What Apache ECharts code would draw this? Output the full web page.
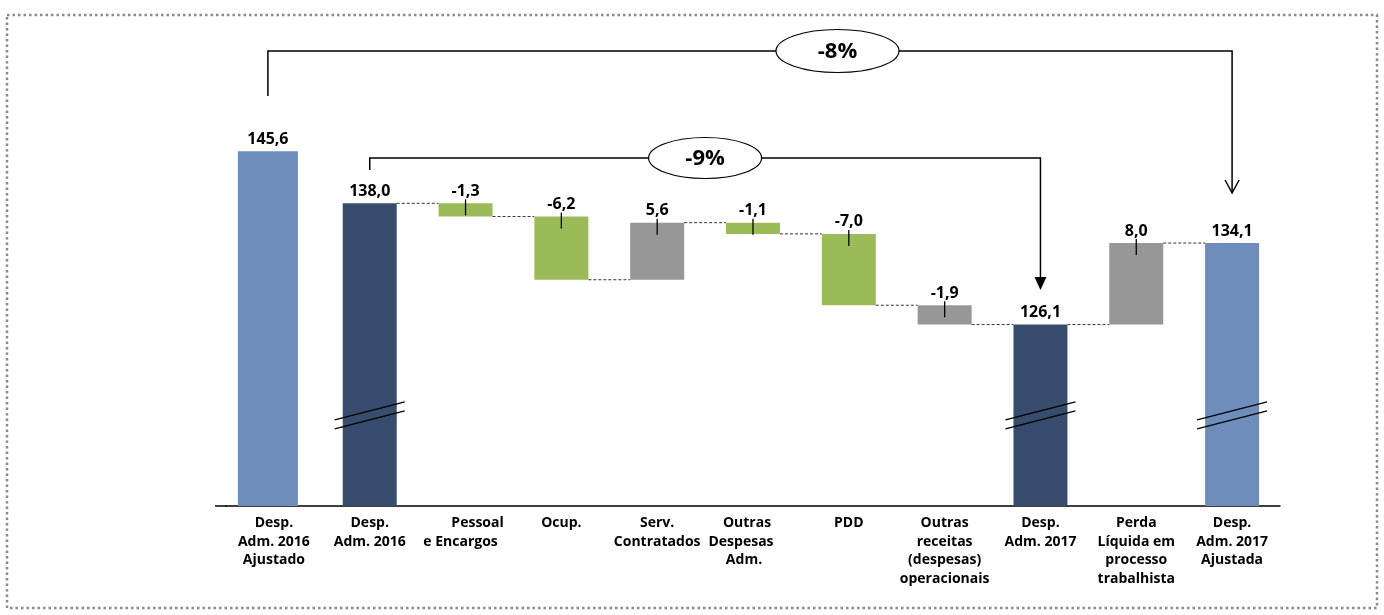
<!DOCTYPE html>
<html><head><meta charset="utf-8">
<script src="https://cdn.jsdelivr.net/npm/echarts@6/dist/echarts.min.js"></script>
<style>html,body{margin:0;padding:0;background:#fff}#c{width:1384px;height:615px}</style>
</head><body><div id="c"></div>
<script>
// ---- data ----
const categories = ['Desp.\nAdm. 2016\nAjustado','Desp.\nAdm. 2016','Pessoal\ne Encargos','Ocup.','Serv.\nContratados','Outras\nDespesas\nAdm.','PDD','Outras\nreceitas\n(despesas)\noperacionais','Desp.\nAdm. 2017','Perda\nLíquida em\nprocesso\ntrabalhista','Desp.\nAdm. 2017\nAjustada'];
const values = [145.6, 138.0, -1.3, -6.2, 5.6, -1.1, -7.0, -1.9, 126.1, 8.0, 134.1];
const valueLabels = ['145,6','138,0','-1,3','-6,2','5,6','-1,1','-7,0','-1,9','126,1','8,0','134,1'];
const isTotal = [true,true,false,false,false,false,false,false,true,false,true];
// tops of the total bars as drawn on the broken axis (first bar is drawn shorter than its value)
const drawnTotals = [143.1, 138.0, null, null, null, null, null, null, 126.1, null, 134.1];
const barKinds = ['adjusted','total','cost','cost','other','cost','cost','other','total','other','adjusted'];
const brokenBars = [1, 8, 10];
const comparisons = [{from:0, to:10, text:'-8%'}, {from:1, to:8, text:'-9%'}];

// ---- styling ----
const kindColor = {adjusted:'#6e8dbb', total:'#384d6d', cost:'#9bbb59', other:'#979797'};
const Y_MIN = 108.3, Y_MAX = 150;
const FONT = '"Open Sans", Lato, sans-serif';

// build waterfall rows [index, low, high, end]
const rows = [];
let running = null;
values.forEach((v, i) => {
  if (isTotal[i]) {
    const top = drawnTotals[i];
    rows.push([i, Y_MIN, top, top]);
    running = top;
  } else {
    const start = running, end = running + v;
    rows.push([i, Math.min(start, end), Math.max(start, end), end]);
    running = end;
  }
});
// bar 0 -> bar 1 has no connector
const connects = rows.map((r, i) => i >= 1 && i < rows.length - 1);

const BAR_W = 54, FIRST_W = 60, FIRST_OFF = -6;

function renderItem(params, api) {
  const i = api.value(0);
  const lo = api.coord([i, api.value(1)]);
  const hi = api.coord([i, api.value(2)]);
  const w = i === 0 ? FIRST_W : BAR_W;
  const cx = lo[0] + (i === 0 ? FIRST_OFF : 0);
  const children = [];
  children.push({type:'rect', shape:{x:cx - w/2, y:hi[1], width:w, height:lo[1] - hi[1]},
    style:{fill:kindColor[barKinds[i]]}});
  if (connects[i]) {
    const e = api.coord([i, api.value(3)]);
    const n = api.coord([i + 1, api.value(3)]);
    children.push({type:'line', shape:{x1:cx + w/2, y1:e[1], x2:n[0] - BAR_W/2, y2:e[1]},
      style:{stroke:'#333', lineWidth:1, lineDash:[3,2]}});
  }
  if (!isTotal[i]) {
    children.push({type:'line', shape:{x1:cx, y1:hi[1] - 4, x2:cx, y2:hi[1] + 12},
      style:{stroke:'#000', lineWidth:1.3}});
  }
  children.push({type:'text', style:{text:valueLabels[i], x:cx, y:hi[1] - 4, align:'center', verticalAlign:'bottom',
    fontSize:16, fontWeight:'bold', fontFamily:FONT, fill:'#000'}});
  if (brokenBars.indexOf(i) >= 0) {
    const yb = api.coord([i, 117.2])[1];
    [-4.5, 4.5].forEach(d => {
      children.push({type:'line', shape:{x1:cx - 35, y1:yb + d + 9, x2:cx + 35, y2:yb + d - 9},
        style:{stroke:'#000', lineWidth:1.3}});
    });
  }
  return {type:'group', children};
}

const labelShift = {2:[12, -5], 5:[-6, -12, -9]};
const richBase = {fontSize:14, fontWeight:'bold', fontFamily:FONT, lineHeight:18.5, color:'#000'};
const rich = {};
for (let s = -30; s <= 30; s++) {
  rich['s' + (s + 30)] = Object.assign({}, richBase, {padding: s >= 0 ? [0,0,0,2*s] : [0,-2*s,0,0]});
}

const chart = echarts.init(document.getElementById('c'), null, {renderer:'canvas'});
chart.setOption({
  animation:false,
  backgroundColor:'#fff',
  grid:{left:226, right:104, top:81, bottom:109, containLabel:false},
  xAxis:{type:'category', data:categories,
    axisTick:{show:false},
    axisLine:{lineStyle:{color:'#000', width:1.5}},
    axisLabel:{interval:0, margin:8, color:'#000', fontSize:14, fontWeight:'bold', fontFamily:FONT, lineHeight:18.5,
      rich:rich,
      formatter:(val, idx) => {
        const sh = labelShift[idx];
        if (!sh) return val;
        return val.split('\n').map((ln, k) => '{s' + (Math.round(sh[k] || 0) + 30) + '|' + ln + '}').join('\n');
      }}},
  yAxis:{type:'value', min:Y_MIN, max:Y_MAX, show:false, splitLine:{show:false}},
  series:[{type:'custom', renderItem, data:rows, encode:{x:0, y:[1,2]}, clip:false}]
});

// ---- annotations (comparison brackets, frame) ----
function px(i) { return chart.convertToPixel({xAxisIndex:0}, i); }
const gfx = [];
gfx.push({type:'rect', shape:{x:7, y:15, width:1370, height:593},
  style:{fill:null, stroke:'#8a8a8a', lineWidth:2.5, lineDash:[2.5,3]}, silent:true});
gfx.push({type:'line', shape:{x1:215, y1:506, x2:227, y2:506}, style:{stroke:'#000', lineWidth:1.5}});

const bracketY = [51, 158];
const startY = [96, 170];
const tipY = [193, 290];
const ellX = [837.5, null];
const ellR = [[61.5, 21.5], [56.5, 20.5]];
comparisons.forEach((c, k) => {
  const x1 = px(c.from) + (c.from === 0 ? FIRST_OFF : 0);
  const x2 = px(c.to);
  const y = bracketY[k];
  const lineStyle = {stroke:'#000', lineWidth:1.5, fill:null};
  gfx.push({type:'polyline', shape:{points:[[x1, startY[k]], [x1, y], [x2, y], [x2, k === 0 ? tipY[k] : tipY[k] - 12]]}, style:lineStyle, z:10});
  if (k === 0) {
    gfx.push({type:'polyline', shape:{points:[[x2 - 7, tipY[k] - 13], [x2, tipY[k]], [x2 + 7, tipY[k] - 13]]}, style:lineStyle, z:10});
  } else {
    gfx.push({type:'polygon', shape:{points:[[x2 - 6, tipY[k] - 13], [x2 + 6, tipY[k] - 13], [x2, tipY[k]]]}, style:{fill:'#000'}, z:10});
  }
  const ex = ellX[k] != null ? ellX[k] : (x1 + x2) / 2;
  gfx.push({type:'ellipse', shape:{cx:ex, cy:y, rx:ellR[k][0], ry:ellR[k][1]}, style:{fill:'#fff', stroke:'#000', lineWidth:1.2}, z:11});
  gfx.push({type:'text', style:{text:c.text, x:ex, y:y + 1, align:'center', verticalAlign:'middle',
    fontSize:22, fontWeight:'bold', fontFamily:FONT, fill:'#000'}, z:12});
});
chart.setOption({graphic:gfx});
</script>
</body></html>
